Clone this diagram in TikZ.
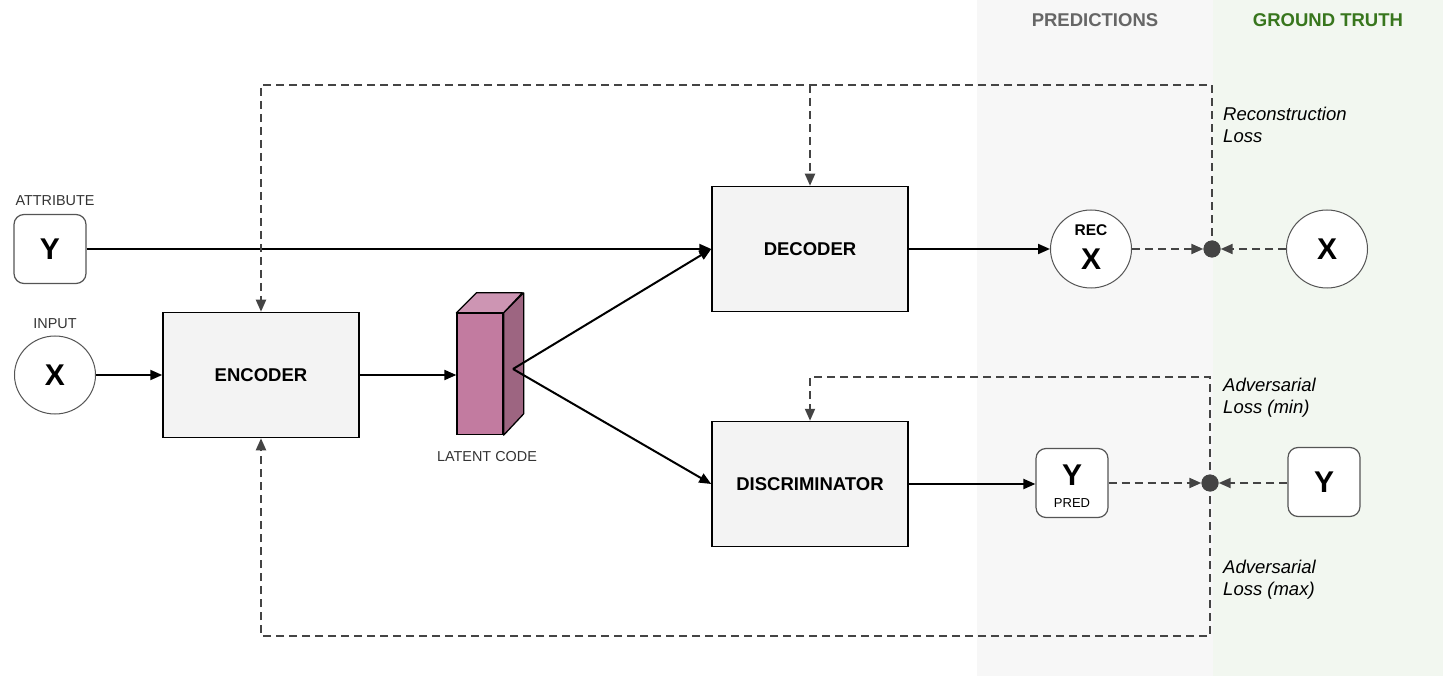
\documentclass[tikz,border=0pt]{standalone}
\usepackage{fontspec}
\setmainfont{Liberation Sans}
\usetikzlibrary{shapes.geometric,arrows.meta}
\definecolor{predbg}{HTML}{F7F7F7}
\definecolor{gtbg}{HTML}{F2F7F0}
\definecolor{boxfill}{HTML}{F3F3F3}
\definecolor{headgray}{HTML}{666666}
\definecolor{headgreen}{HTML}{38761D}
\definecolor{dashgray}{HTML}{444444}
\definecolor{rimgray}{HTML}{555555}
\definecolor{latfront}{HTML}{C27BA0}
\definecolor{lattop}{HTML}{CD95B3}
\definecolor{latside}{HTML}{9D6581}
\definecolor{labelgray}{HTML}{333333}
\begin{document}
\begin{tikzpicture}[x=1pt,y=-1pt,
  block/.style={draw=black, line width=1.5pt, fill=boxfill, minimum width=196pt, minimum height=125pt, inner sep=0pt, font=\fontsize{18.5}{22}\selectfont\bfseries},
  varcircle/.style={ellipse, draw=rimgray, line width=1pt, fill=white, minimum width=81pt, minimum height=78pt, inner sep=0pt, font=\fontsize{30}{32}\selectfont\bfseries},
  varbox/.style={draw=rimgray, line width=1.2pt, rounded corners=10pt, fill=white, minimum width=72pt, minimum height=69pt, inner sep=0pt, font=\fontsize{30}{32}\selectfont\bfseries},
  smalllabel/.style={font=\fontsize{14.4}{17}\selectfont, text=labelgray, inner sep=0pt},
  losslabel/.style={font=\fontsize{18.5}{22}\selectfont\itshape, align=left, anchor=west, inner sep=0pt},
  heading/.style={font=\fontsize{18.5}{22}\selectfont\bfseries, inner sep=0pt},
  solidarrow/.style={-{Triangle[length=12pt,width=10pt]}, line width=2pt, draw=black},
  dashline/.style={draw=dashgray, line width=2pt, dash pattern=on 8pt off 5pt},
  dasharrow/.style={dashline, -{Triangle[length=12pt,width=10pt]}},
  lossdot/.style={circle, fill=dashgray, minimum size=17pt, inner sep=0pt}
]
\useasboundingbox (0,0) rectangle (1443,676);
\fill[predbg] (977,0) rectangle (1213,676);
\fill[gtbg] (1213,0) rectangle (1443,676);

\node[heading, text=headgray] (predhead) at (1095,20) {PREDICTIONS};
\node[heading, text=headgreen] (gthead) at (1328,20) {GROUND TRUTH};

% inputs
\node[smalllabel] (attrlabel) at (55,201) {ATTRIBUTE};
\node[varbox] (yin) at (50,249) {Y};
\node[smalllabel] (inputlabel) at (55,324) {INPUT};
\node[varcircle] (xin) at (55,375) {X};

% blocks
\node[block] (encoder) at (261,375) {ENCODER};
\node[block] (decoder) at (810,249) {DECODER};
\node[block] (disc) at (810,484) {DISCRIMINATOR};

% latent code cuboid
\node[draw=black, line width=1.3pt, fill=latfront, minimum width=46pt, minimum height=121pt, inner sep=0pt] (latent) at (480,374) {};
\fill[lattop, draw=black, line width=1.3pt, line join=round] (latent.north west) -- ++(20,-20) -- ++(46,0) -- (latent.north east) -- cycle;
\fill[latside, draw=black, line width=1.3pt, line join=round] (latent.north east) -- ++(20,-20) -- ++(0,121) -- (latent.south east) -- cycle;
\node[smalllabel] (latlabel) at (487,457) {LATENT CODE};
\coordinate (split) at (513,369);

% predictions
\node[varcircle] (recx) at (1091,249) {};
\node[font=\fontsize{15.5}{18}\selectfont\bfseries, inner sep=0pt] (rectext) at (1091,230) {REC};
\node[font=\fontsize{30}{32}\selectfont\bfseries, inner sep=0pt] (recxtext) at (1091,259) {X};
\node[varbox] (ypred) at (1072,483) {};
\node[font=\fontsize{30}{32}\selectfont\bfseries, inner sep=0pt] (ypredtext) at (1072,475) {Y};
\node[font=\fontsize{13}{15}\selectfont, inner sep=0pt] (predtext) at (1072,503) {PRED};

% ground truth
\node[varcircle] (gtx) at (1327,249) {X};
\node[varbox] (gty) at (1324,482) {Y};

% loss points
\node[lossdot] (recdot) at (1212,249) {};
\node[lossdot] (advdot) at (1210,483) {};

% solid connectors
\draw[solidarrow] (yin.east) -- (decoder.west |- yin.east);
\draw[solidarrow] (xin.east) -- (encoder.west);
\draw[solidarrow] (encoder.east) -- (latent.west |- encoder.east);
\draw[solidarrow] (split) -- (decoder.west);
\draw[solidarrow] (split) -- (disc.west);
\draw[solidarrow] (decoder.east) -- (recx.west);
\draw[solidarrow] (disc.east) -- (ypred.west |- disc.east);

% dashed connectors to loss points
\draw[dasharrow] (recx.east) -- (recdot.west);
\draw[dasharrow] (gtx.west) -- (recdot.east);
\draw[dasharrow] (ypred.east |- advdot) -- (advdot.west);
\draw[dasharrow] (gty.west |- advdot) -- (advdot.east);

% feedback loops
\coordinate (rectop) at (1212,85);
\draw[dasharrow] (recdot.center) -- (rectop) -- (261,85) -- (encoder.north);
\draw[dasharrow] (810,85) -- (decoder.north);
\draw[dasharrow] (advdot.center) -- (1210,377) -- (810,377) -- (disc.north);
\draw[dasharrow] (advdot.center) -- (1210,636) -- (261,636) -- (encoder.south);
\node[lossdot] at (recdot) {};
\node[lossdot] at (advdot) {};

% loss labels
\node[losslabel] (reclabel) at (1223,125) {Reconstruction\\Loss};
\node[losslabel] (advminlabel) at (1223,398) {Adversarial\\Loss (min)};
\node[losslabel] (advmaxlabel) at (1223,580) {Adversarial\\Loss (max)};
\end{tikzpicture}
\end{document}
